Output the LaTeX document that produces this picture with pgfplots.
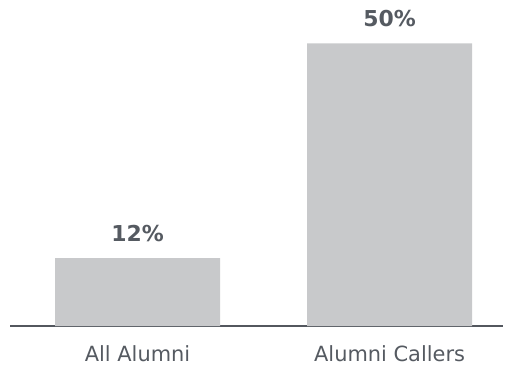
\documentclass[border=0pt]{standalone}
\usepackage{pgfplots}
\pgfplotsset{compat=1.18}
\usepackage{fontspec}
\setmainfont{DejaVu Sans}
\definecolor{barc}{HTML}{C8C9CB}
\definecolor{txt}{HTML}{555A61}
\definecolor{axc}{HTML}{53575E}
\begin{document}
\begin{tikzpicture}
\useasboundingbox (-10bp,-40bp) rectangle (495bp,326bp);
\begin{axis}[
  scale only axis,
  width=493bp, height=311bp,
  xmin=-0.506, xmax=1.450,
  ymin=0, ymax=55,
  axis y line=none,
  axis x line*=bottom,
  x axis line style={draw=axc, line width=1.5bp, -},
  xtick={0,1},
  xticklabels={All Alumni, Alumni Callers},
  xtick style={draw=none},
  xticklabel style={font=\fontsize{21}{24}\selectfont, text=txt, anchor=center, inner sep=0pt, yshift=-23bp},
  ybar, bar width=165bp,
  nodes near coords={\pgfmathprintnumber[assume math mode=true]{\pgfplotspointmeta}\%},
  nodes near coords style={font=\fontsize{22}{26}\selectfont\bfseries, text=txt, anchor=center, inner sep=0pt, yshift=25bp},
  clip=false,
]
\addplot[fill=barc, draw=none] coordinates {(0,12) (1,50)};
\end{axis}
\end{tikzpicture}
\end{document}
